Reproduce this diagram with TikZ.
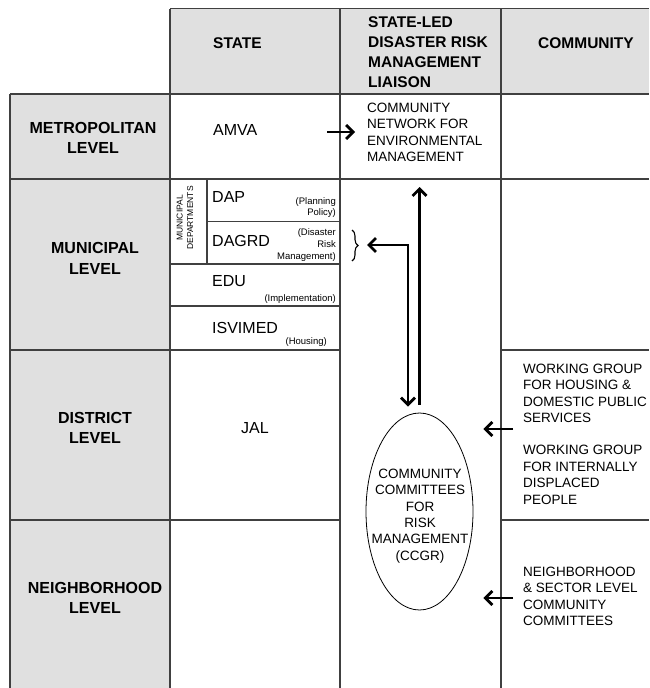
\documentclass[tikz,border=0pt]{standalone}
\usepackage{fontspec}
\setmainfont{Liberation Sans}
\usepackage{tikz}
\usetikzlibrary{positioning}
\usetikzlibrary{arrows.meta}
\usetikzlibrary{shapes.geometric}
\usetikzlibrary{decorations.pathreplacing}

\definecolor{cellgray}{HTML}{E0E0E0}
\definecolor{linegray}{HTML}{404040}

\begin{document}
\begin{tikzpicture}[x=1pt, y=-1pt,
        tabline/.style={draw=linegray, line width=1.1pt},
        shade/.style={fill=cellgray},
        headnode/.style={font=\fontsize{15.5}{19.7}\selectfont\bfseries, align=left, inner sep=0pt},
        levelnode/.style={font=\fontsize{16}{20.5}\selectfont\bfseries, align=center, inner sep=0pt},
        unitnode/.style={font=\fontsize{16}{19}\selectfont, anchor=west, inner sep=0pt},
        notenode/.style={font=\fontsize{9.5}{11.7}\selectfont, align=right, anchor=east, inner sep=0pt},
        textnode/.style={font=\fontsize{13.5}{16.5}\selectfont, align=left, anchor=west, inner sep=0pt},
        ccgrnode/.style={ellipse, draw=black, line width=0.8pt, minimum width=107pt, minimum height=197pt, inner sep=0pt},
        barb/.tip={Straight Barb[length=7pt,width=14pt]},
        flow/.style={-barb, line width=2.8pt},
        ]
        \useasboundingbox (0,0) rectangle (649,688);

        %Grid
        \fill[shade] (170,8.5) rectangle (649,94);
        \fill[shade] (10,94) rectangle (170,688);
        \draw[tabline] (170,8.5) -- (649,8.5);
        \foreach \y in {94,179} \draw[tabline] (10,\y) -- (649,\y);
        \foreach \y in {350,520} {
            \draw[tabline] (10,\y) -- (340,\y);
            \draw[tabline] (501,\y) -- (649,\y);
        }
        \draw[tabline] (10,94) -- (10,688);
        \foreach \x in {170,340,501} \draw[tabline] (\x,8.5) -- (\x,688);
        \draw[tabline] (207,179) -- (207,264);
        \draw[tabline] (207,221.7) -- (340,221.7);
        \foreach \y in {264,306} \draw[tabline] (170,\y) -- (340,\y);

        %Nodes
        \node[headnode, anchor=west] (hstate)  at (213,43)   {STATE};
        \node[headnode, anchor=west] (hliaison) at (368,52.2) {STATE-LED\\DISASTER RISK\\MANAGEMENT\\LIAISON};
        \node[headnode]              (hcomm)   at (586,43)   {COMMUNITY};

        \node[levelnode] (lmetro) at (93,138)   {METROPOLITAN\\LEVEL};
        \node[levelnode] (lmuni)  at (95,258.5) {MUNICIPAL\\LEVEL};
        \node[levelnode] (ldist)  at (95,428)   {DISTRICT\\LEVEL};
        \node[levelnode] (lneigh) at (95,598)   {NEIGHBORHOOD\\LEVEL};

        \node[unitnode]  (amva) at (213,130)   {AMVA};
        \node[textnode]  (net)  at (367,132.5) {COMMUNITY\\NETWORK FOR\\ENVIRONMENTAL\\MANAGEMENT};

        \node[rotate=90, align=center, inner sep=0pt, font=\fontsize{8.5}{10.5}\selectfont] (mundep) at (185,218) {MUNICIPAL\\DEPARTMENTS};
        \node[unitnode]  (dap)     at (212,197) {DAP};
        \node[notenode]  (dapnote) at (336,207.5) {(Planning\\Policy)};
        \node[unitnode]  (dagrd)   at (212,241) {DAGRD};
        \node[notenode]  (dagrdnote) at (336,245) {(Disaster\\Risk\\Management)};
        \node[unitnode]  (edu)     at (212,281) {EDU};
        \node[notenode]  (edunote) at (336,299) {(Implementation)};
        \node[unitnode]  (isvimed) at (212,328) {ISVIMED};
        \node[notenode]  (isvnote) at (327,342) {(Housing)};
        \node[unitnode, anchor=center] (jal) at (255,428) {JAL};

        \node[ccgrnode]  (ccgr) at (419.5,511.5) {};
        \node[font=\fontsize{13.5}{16.4}\selectfont, align=center, inner sep=0pt] (ccgrtext) at (420,516)
            {COMMUNITY\\COMMITTEES\\FOR\\RISK\\MANAGEMENT\\(CCGR)};

        \node[textnode] (wghouse) at (523,393.5) {WORKING GROUP\\FOR HOUSING \&\\DOMESTIC PUBLIC\\SERVICES};
        \node[textnode] (wgidp)   at (523,475)   {WORKING GROUP\\FOR INTERNALLY\\DISPLACED\\PEOPLE};
        \node[textnode] (nbcomm)  at (523,596.5) {NEIGHBORHOOD\\\& SECTOR LEVEL\\COMMUNITY\\COMMITTEES};

        \coordinate (amvatail) at (327,132);
        \coordinate (netfoot)  at (419.5,179);
        \coordinate (brtip)    at (359,245);
        \coordinate (wgtail)   at (513,429);
        \coordinate (nbtail)   at (513,598);

        %Lines
        \draw[decorate, decoration={brace, amplitude=6pt}, line width=1.1pt] (352,230) -- (352,261);

        \draw[flow, shorten >=12pt] (amvatail) -- (amvatail -| net.west);
        \draw[flow, shorten <=8pt, shorten >=8pt] (ccgr.north) -- (netfoot);
        \draw[barb-barb, line width=2.8pt, shorten <=8pt, shorten >=6pt] (brtip) -| ([xshift=-11.5pt]ccgr.north);
        \draw[flow, shorten >=10pt] (wgtail) -- (wgtail -| ccgr.east);
        \draw[flow, shorten >=10pt] (nbtail) -- (nbtail -| ccgr.east);
    \end{tikzpicture}
\end{document}
